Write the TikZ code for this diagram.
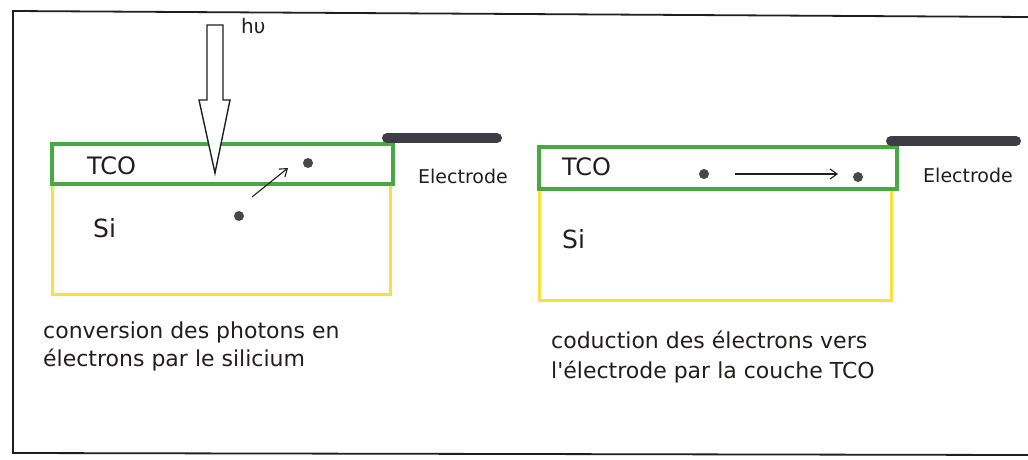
\documentclass[tikz,border=0pt]{standalone}
\usepackage{fontspec}
\setmainfont{DejaVu Sans}[Ligatures=TeXOff]
\usetikzlibrary{arrows.meta}
\definecolor{tcogreen}{RGB}{72,168,68}
\definecolor{siyellow}{RGB}{246,226,60}
\definecolor{elgray}{RGB}{62,60,68}
\definecolor{dotgray}{RGB}{72,72,76}
\definecolor{inkc}{RGB}{35,30,30}
\begin{document}
\begin{tikzpicture}[x=1pt,y=-1pt,
  frameline/.style={draw=inkc,line width=1.8pt},
  tcolayer/.style={draw=tcogreen,line width=3.5pt},
  silayer/.style={draw=siyellow,line width=3pt},
  electrodebar/.style={draw=elgray,line width=10pt,line cap=round},
  electron/.style={circle,fill=dotgray,inner sep=0pt,minimum size=10pt},
  lbl/.style={inner sep=0pt,text=inkc,anchor=base west},
  flow/.style={draw=inkc,line width=1.1pt,-{Straight Barb[length=7pt,width=10pt]}},
  photon/.style={draw=inkc,line width=1.4pt,fill=white,line join=miter}
]
\useasboundingbox (0,0) rectangle (1028,459);
\fill[white] (0,0) rectangle (1028,459);
% outer frame
\draw[frameline] (1028,17) -- (13,11) -- (13,453) -- (1028,455);

% ---- left cell ----
\draw[silayer] (52,184) -- (52,294) -- (390,294) -- (390,184);
\draw[tcolayer] (52,144) rectangle (393,184);
\draw[electrodebar] (387,138) -- (497,138);
\node[lbl,font=\fontsize{24}{28}\selectfont] (tcoL) at (87,174) {TCO};
\node[lbl,font=\fontsize{25}{29}\selectfont] (siL) at (93,237) {Si};
\node[lbl,font=\fontsize{19}{22}\selectfont] (elL) at (418,183) {Electrode};
\node[lbl,font=\fontsize{20}{24}\selectfont] (hnu) at (241,33) {hυ};
\draw[photon] (207,25) -- (223,25) -- (223,100) -- (230,100) -- (215,173) -- (199,100) -- (207,100) -- cycle;
\node[electron] (e1) at (308,163) {};
\node[electron] (e2) at (239,216) {};
\coordinate (a1s) at (252,197);
\coordinate (a1e) at (288,168);
\draw[flow] (a1s) -- (a1e);
\node[lbl,font=\fontsize{22}{26}\selectfont] (capL1) at (43,338) {conversion des photons en};
\node[lbl,font=\fontsize{22}{26}\selectfont] (capL2) at (43,366) {électrons par le silicium};

% ---- right cell ----
\draw[silayer] (539,189) -- (539,300) -- (891,300) -- (891,189);
\draw[tcolayer] (539,147) rectangle (897,189);
\draw[electrodebar] (891,141) -- (1016,141);
\node[lbl,font=\fontsize{24}{28}\selectfont] (tcoR) at (562,175) {TCO};
\node[lbl,font=\fontsize{25}{29}\selectfont] (siR) at (562,248) {Si};
\node[lbl,font=\fontsize{19}{22}\selectfont] (elR) at (923,182) {Electrode};
\node[electron] (e3) at (704,174) {};
\node[electron] (e4) at (858,177) {};
\coordinate (a2s) at (735,174);
\coordinate (a2e) at (838,174);
\draw[flow] (a2s) -- (a2e);
\node[lbl,font=\fontsize{22}{26}\selectfont] (capR1) at (551,348) {coduction des électrons vers};
\node[lbl,font=\fontsize{22}{26}\selectfont] (capR2) at (551,378) {l'électrode par la couche TCO};
\end{tikzpicture}
\end{document}
